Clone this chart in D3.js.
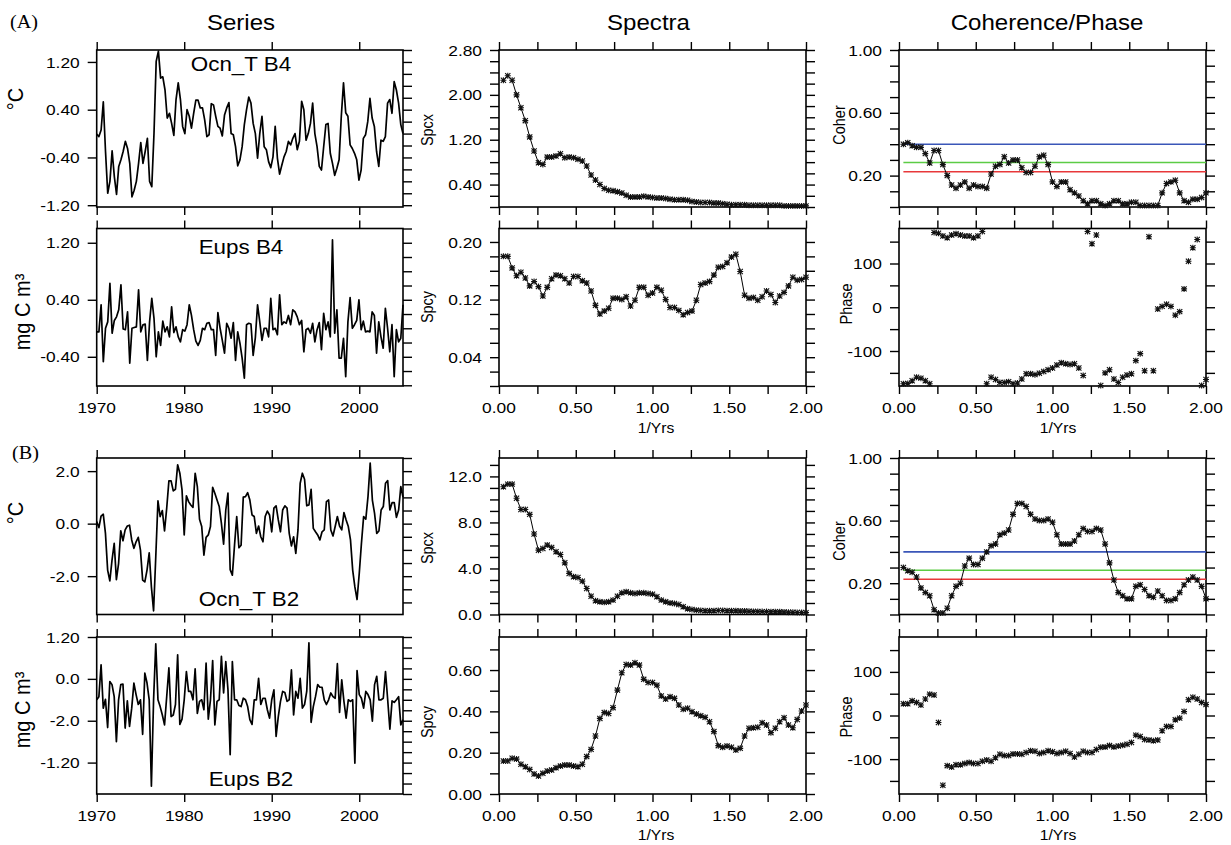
<!DOCTYPE html>
<html>
<head>
<meta charset="utf-8">
<script src="https://cdn.jsdelivr.net/npm/d3@7"></script>
<style>
  body { margin: 0; background: #fff; }
  text { font-family: "Liberation Sans", Arial, Helvetica, sans-serif; fill: #000; }
</style>
</head>
<body>
<svg id="fig" width="1231" height="845"></svg>
<script>
// ---------------- data ----------------
// quarterly anomalies 1970-2005
const ocnT_B4 = [-0.01,-0.05,0.06,0.53,-0.3,-1.0,-0.8,-0.29,-0.72,-1.02,
  -0.55,-0.44,-0.30,-0.13,-0.25,-0.5,-1.06,-0.95,-0.8,-0.5,
  -0.15,-0.5,-0.3,-0.08,-0.8,-0.89,0.0,1.21,1.38,0.93,
  0.95,0.73,0.26,0.34,0.17,-0.03,0.57,0.85,0.57,0.12,
  0.0,0.4,0.29,0.09,0.34,0.56,0.56,0.43,0.43,0.23,
  -0.05,-0.02,0.5,0.48,0.29,0.12,0.09,-0.04,0.31,0.43,
  0.52,0.0,-0.02,-0.22,-0.54,-0.44,-0.22,0.15,0.4,0.61,
  0.51,0.17,0.0,-0.41,0.0,0.29,-0.22,-0.27,-0.47,-0.57,
  -0.39,0.12,-0.41,-0.68,-0.53,-0.39,-0.3,-0.13,-0.19,-0.08,
  0.0,-0.27,-0.13,0.54,0.4,-0.11,0.0,0.17,0.51,0.0,
  -0.22,-0.55,-0.61,-0.22,0.15,0.17,-0.33,-0.5,-0.7,-0.58,
  -0.44,0.29,0.85,0.35,0.29,-0.19,-0.25,-0.33,-0.44,-0.78,
  -0.61,-0.08,-0.02,0.2,0.59,0.26,0.12,-0.3,-0.55,-0.11,
  -0.13,-0.05,0.51,0.57,0.34,0.87,0.73,0.51,0.15,0.0];

const eups_B4 = [-0.05,-0.05,0.33,-0.47,0.0,0.09,0.63,-0.07,0.11,0.16,
  0.26,0.61,-0.01,-0.02,0.23,-0.49,0.0,0.01,0.02,0.54,
  -0.05,0.05,0.06,-0.45,0.09,0.42,0.14,-0.4,-0.05,-0.24,
  0.10,-0.05,0.02,-0.12,0.30,-0.06,0.02,-0.12,-0.19,-0.02,
  -0.04,0.05,0.33,0.18,-0.02,-0.18,-0.24,-0.17,0.0,-0.02,
  0.07,0.08,-0.02,-0.02,-0.38,0.22,0.0,-0.17,-0.35,0.07,
  0.0,-0.14,0.08,-0.45,-0.05,-0.21,-0.42,-0.7,0.05,0.07,
  0.06,-0.38,-0.13,0.33,0.09,-0.17,0.0,0.0,-0.12,0.42,
  -0.02,0.0,-0.09,0.47,0.05,0.09,0.07,0.18,0.05,0.26,
  0.23,0.16,0.05,0.11,-0.33,-0.02,0.0,-0.07,0.07,-0.19,
  -0.02,0.08,-0.3,0.21,-0.02,0.09,-0.12,1.24,-0.07,0.26,
  -0.42,-0.42,-0.14,-0.68,0.09,0.43,0.0,0.05,0.11,0.40,
  -0.02,0.10,-0.05,-0.04,-0.05,0.23,0.18,-0.35,0.09,-0.12,
  -0.28,0.28,0.0,-0.33,0.05,-0.68,-0.02,-0.19,-0.14,0.33];

const ocnT_B2 = [0.08,-0.15,0.29,0.36,-0.37,-1.77,-2.18,-1.39,-0.75,-2.13,
  -1.52,-0.27,-0.65,-0.24,-0.09,-0.06,-0.62,-0.94,-0.69,-0.52,
  -1.01,-2.15,-2.22,-1.77,-1.11,-2.41,-3.32,-1.26,0.87,0.27,
  0.5,-0.28,0.59,1.63,1.63,1.25,1.31,2.24,1.92,1.29,
  -0.43,1.06,0.84,0.71,0.62,1.92,1.41,0.17,-0.11,-1.2,
  -0.52,-0.43,-0.11,1.38,1.16,0.9,0.65,0.01,-0.78,0.52,
  1.16,-1.75,-1.96,-0.82,0.27,-0.92,-0.82,1.01,1.03,1.18,
  0.9,0.33,0.27,-0.37,-0.09,-0.5,-0.69,0.27,0.48,0.33,
  -0.31,0.59,0.68,0.14,-0.31,0.52,0.68,0.59,-0.37,-0.85,
  -0.5,-1.13,-0.24,1.54,1.92,1.69,0.68,0.71,1.31,-0.18,
  -0.31,-0.43,-0.62,-0.31,-0.24,0.84,0.9,-0.24,-0.47,-0.11,
  0.27,-0.09,-0.24,0.42,0.14,-0.11,-0.62,-1.77,-2.41,-2.89,
  -1.9,-0.75,0.27,0.17,1.03,2.31,0.9,0.39,-0.37,-0.28,
  0.52,0.65,1.54,1.64,0.52,0.8,0.8,0.24,0.52,1.41,1.01];

const eups_B2 = [0.0,0.06,0.67,-0.16,0.01,-0.53,0.35,0.29,0.06,-0.8,
  0.0,0.29,0.3,-0.54,-0.02,-0.51,-0.16,0.32,0.1,-0.09,
  0.0,-0.66,0.51,0.32,0.0,-1.65,0.0,1.07,0.0,-0.13,
  -0.29,-0.48,0.06,0.61,-0.32,-0.29,-0.09,0.86,-0.47,-0.37,
  0.0,0.54,0.16,0.16,0.0,0.59,-0.26,-0.03,0.0,-0.19,
  0.7,-0.37,0.0,0.75,-0.48,-0.03,0.0,0.83,0.13,0.73,
  0.19,-1.05,0.73,0.0,0.0,-0.11,-0.13,0.03,0.0,-0.13,
  -0.38,-0.47,0.0,0.0,0.41,-0.09,0.03,0.03,-0.19,-0.35,
  0.0,0.19,-0.7,-0.32,-0.03,0.16,0.14,-0.03,0.0,0.57,
  -0.29,0.16,0.03,0.41,-0.16,-0.09,0.16,1.09,-0.43,-0.13,
  0.06,0.29,0.24,0.24,0.0,-0.09,0.0,0.13,0.06,0.03,
  0.69,-0.24,0.38,-0.03,-0.35,0.0,-0.03,0.0,-1.21,0.56,
  0.1,0.03,-0.16,0.16,0.1,0.0,-0.41,0.29,0.45,0.0,
  0.0,0.03,0.54,0.0,-0.56,-0.02,-0.05,0.0,0.06,-0.48,-0.38];

// smoothed spectra, coherence and phase at frequencies k/35 cycles per year
const spcx_B4 = [2.26,2.34,2.26,2.0,1.77,1.54,1.25,1.0,0.79,0.76,
  0.89,0.89,0.91,0.95,0.88,0.89,0.88,0.85,0.82,0.73,
  0.57,0.48,0.40,0.33,0.30,0.29,0.27,0.25,0.21,0.18,
  0.18,0.18,0.19,0.18,0.17,0.16,0.16,0.15,0.14,0.13,
  0.13,0.13,0.12,0.10,0.09,0.08,0.08,0.08,0.07,0.07,
  0.06,0.05,0.04,0.04,0.04,0.04,0.03,0.03,0.03,0.03,
  0.03,0.03,0.03,0.03,0.02,0.02,0.02,0.02,0.02,0.02];
const spcy_B4 = [0.180,0.180,0.164,0.153,0.158,0.150,0.139,0.145,0.138,0.125,
  0.137,0.149,0.154,0.153,0.149,0.143,0.152,0.152,0.146,0.143,
  0.132,0.112,0.100,0.104,0.108,0.122,0.122,0.120,0.124,0.111,
  0.119,0.137,0.137,0.126,0.129,0.137,0.133,0.120,0.109,0.109,
  0.105,0.099,0.102,0.104,0.119,0.141,0.143,0.145,0.154,0.165,
  0.166,0.171,0.179,0.183,0.159,0.126,0.122,0.123,0.119,0.124,
  0.132,0.127,0.116,0.125,0.130,0.139,0.151,0.147,0.148,0.151];
const coher_B4 = [0.40,0.41,0.39,0.38,0.38,0.34,0.28,0.36,0.36,0.27,
  0.20,0.14,0.12,0.14,0.16,0.12,0.14,0.13,0.13,0.12,
  0.21,0.26,0.27,0.32,0.28,0.30,0.30,0.25,0.22,0.22,
  0.26,0.32,0.33,0.27,0.16,0.13,0.16,0.16,0.11,0.09,
  0.07,0.04,0.02,0.04,0.04,0.02,0.01,0.02,0.04,0.04,
  0.02,0.02,0.03,0.03,0.01,0.01,0.01,0.01,0.01,0.09,
  0.15,0.16,0.17,0.09,0.04,0.03,0.05,0.05,0.06,0.09];
const phase_B4 = [-175,-174,-168,-160,-162,-168,-175,171,169,163,
  159,165,168,165,163,163,159,163,173,-175,
  -160,-165,-172,-172,-170,-175,-173,-164,-152,-152,
  -154,-151,-147,-143,-139,-132,-127,-129,-131,-129,
  -139,-156,173,145,165,-179,-150,-143,-164,-172,
  -160,-155,-152,-122,-106,-145,161,-145,-4,2,
  7,2,-18,-10,42,105,136,155,-179,-165];

const spcx_B2 = [11.1,11.33,11.33,10.1,9.13,9.13,8.7,6.99,5.59,5.74,
  6.03,5.83,5.45,5.22,4.49,3.57,3.28,3.22,2.9,2.26,
  1.59,1.19,1.1,1.07,1.1,1.25,1.59,1.88,1.97,1.88,
  1.83,1.88,1.88,1.83,1.77,1.54,1.25,1.1,1.01,0.96,
  0.87,0.67,0.49,0.43,0.38,0.35,0.33,0.32,0.33,0.35,
  0.35,0.33,0.33,0.32,0.30,0.30,0.28,0.27,0.27,0.25,
  0.25,0.24,0.24,0.23,0.22,0.20,0.19,0.18,0.17,0.16];
const spcy_B2 = [0.16,0.16,0.173,0.169,0.144,0.132,0.119,0.097,0.087,0.1,
  0.111,0.116,0.127,0.135,0.14,0.14,0.135,0.132,0.144,0.181,
  0.216,0.281,0.366,0.394,0.39,0.418,0.503,0.587,0.627,0.624,
  0.635,0.624,0.555,0.54,0.54,0.527,0.474,0.46,0.471,0.463,
  0.431,0.41,0.415,0.398,0.387,0.379,0.371,0.35,0.302,0.234,
  0.226,0.232,0.226,0.213,0.221,0.281,0.318,0.321,0.323,0.345,
  0.334,0.297,0.318,0.35,0.369,0.334,0.321,0.361,0.402,0.431];
const coher_B2 = [0.30,0.28,0.27,0.24,0.17,0.14,0.12,0.03,0.01,0.01,
  0.04,0.12,0.18,0.20,0.31,0.36,0.32,0.32,0.36,0.40,
  0.44,0.45,0.51,0.52,0.54,0.64,0.71,0.71,0.69,0.64,
  0.61,0.60,0.60,0.61,0.59,0.51,0.45,0.45,0.45,0.47,
  0.51,0.55,0.53,0.53,0.55,0.54,0.45,0.33,0.22,0.14,
  0.12,0.10,0.10,0.18,0.19,0.16,0.12,0.11,0.15,0.12,
  0.09,0.09,0.10,0.14,0.19,0.22,0.24,0.22,0.18,0.10];
const phase_B2 = [27,27,34,30,24,38,49,47,-16,-160,
  -115,-118,-113,-113,-110,-108,-110,-110,-105,-102,
  -105,-97,-89,-92,-92,-88,-88,-89,-85,-81,
  -82,-87,-85,-81,-83,-87,-85,-82,-87,-95,
  -89,-82,-85,-85,-78,-73,-72,-69,-72,-70,
  -68,-66,-62,-45,-48,-55,-56,-58,-56,-35,
  -25,-25,-10,-6,9,36,42,38,30,25];

// coherence significance levels and their colours
const sigLevels = [0.40, 0.283, 0.225];
const sigColors = ["#3a56b8", "#5ccc45", "#e8383a"];

// axis ticks and labels
const yearTicks = [1970, 1980, 1990, 2000];
const yearLabels = ["1970", "1980", "1990", "2000"];
const freqTicks = [0, 0.25, 0.5, 0.75, 1.0, 1.25, 1.5, 1.75, 2.0];
const freqLabelTicks = [0, 0.5, 1.0, 1.5, 2.0];
const freqLabels = ["0.00", "0.50", "1.00", "1.50", "2.00"];
const coherTicks = [1.0, 0.6, 0.2], coherLabels = ["1.00", "0.60", "0.20"];
const phaseTicks = [100, 0, -100], phaseLabels = ["100", "0", "-100"];

// ---------------- drawing ----------------
const svg = d3.select("#fig");
const SX = 1.12;          // horizontal text stretch
const TICK = 9;           // outward tick length
const COLS = [[96.7, 403], [499, 806], [899, 1206]];
const ROWS = [[50, 207], [228.5, 386], [458, 614.5], [637, 794]];
const nFreq = spcx_B4.length;
const freqs = d3.range(1, nFreq + 1).map(k => k / 35);

function txt(x, y, s, size, anchor = "middle", rot = 0, family = null) {
  const t = svg.append("text")
    .attr("transform", `translate(${x},${y}) scale(${SX},1) rotate(${rot})`)
    .attr("text-anchor", anchor)
    .style("font-size", size + "px")
    .text(s);
  if (family) t.style("font-family", family);
  return t;
}

function stepTicks(lo, hi, step) {
  const a = Math.ceil(lo / step - 1e-6), b = Math.floor(hi / step + 1e-6);
  return d3.range(a, b + 1).map(k => +(k * step).toFixed(6));
}

function panel(col, row, o) {
  const [x0, x1] = COLS[col], [y0, y1] = ROWS[row];
  const x = d3.scaleLinear().domain(o.xDomain).range([x0, x1]);
  const y = d3.scaleLinear().domain(o.yDomain).range([y1, y0]);
  const g = svg.append("g");
  const minor = stepTicks(o.yDomain[0], o.yDomain[1], o.yStep);
  const tk = (axis, tr) => g.append("g").attr("transform", tr).call(axis)
    .call(s => {
      s.select(".domain").remove();
      s.selectAll("text").remove();
      s.selectAll("line").attr("stroke", "#000").attr("stroke-width", 1.4);
    });
  tk(d3.axisLeft(y).tickValues(o.leftMinor ? minor : o.yTicks).tickSize(TICK).tickSizeOuter(0).tickFormat(() => ""), `translate(${x0},0)`);
  tk(d3.axisRight(y).tickValues(minor).tickSize(TICK).tickSizeOuter(0).tickFormat(() => ""), `translate(${x1},0)`);
  tk(d3.axisBottom(x).tickValues(o.xTicks).tickSize(8).tickSizeOuter(0).tickFormat(() => ""), `translate(0,${y1})`);
  tk(d3.axisTop(x).tickValues(o.xTicks).tickSize(8).tickSizeOuter(0).tickFormat(() => ""), `translate(0,${y0})`);
  g.append("rect").attr("x", x0).attr("y", y0).attr("width", x1 - x0).attr("height", y1 - y0)
    .attr("fill", "none").attr("stroke", "#000").attr("stroke-width", 1.6);
  o.yTicks.forEach((v, i) => txt(x0 - 17, y(v), o.yLabels[i], 15.5, "end").attr("dy", "0.36em"));
  if (o.xLabelTicks) {
    o.xLabelTicks.forEach((v, i) => txt(x(v), y1 + 26.5, o.xLabels[i], 15.5));
  }
  return { x, y, g };
}

// asterisk marker
const star = "M-2.6,-2.6L2.6,2.6M-2.6,2.6L2.6,-2.6M0,-3L0,3M-3,0L3,0";

function drawSeries(p, vals) {
  const n = vals.length;
  const t = vals.map((v, i) => 1970 + i * 35 / (n - 1));
  p.g.append("path").datum(vals)
    .attr("d", d3.line().x((d, i) => p.x(t[i])).y(d => p.y(d)))
    .attr("fill", "none").attr("stroke", "#000").attr("stroke-width", 1.7)
    .attr("stroke-linejoin", "round");
}

function drawSpec(p, vals, withLine = true) {
  if (withLine) {
    p.g.append("path").datum(vals)
      .attr("d", d3.line().x((d, i) => p.x(freqs[i])).y(d => p.y(d)))
      .attr("fill", "none").attr("stroke", "#000").attr("stroke-width", 1);
  }
  p.g.selectAll(null).data(vals).enter().append("path")
    .attr("d", star)
    .attr("transform", (d, i) => `translate(${p.x(freqs[i])},${p.y(d)})`)
    .attr("fill", "none").attr("stroke", "#111").attr("stroke-width", 1.1);
}

function drawSig(p) {
  sigLevels.forEach((v, i) => {
    p.g.append("line").attr("x1", p.x(freqs[0])).attr("x2", p.x(2))
      .attr("y1", p.y(v)).attr("y2", p.y(v))
      .attr("stroke", sigColors[i]).attr("stroke-width", 1.6);
  });
}

// --- block A ---
let p;
p = panel(0, 0, { xDomain: [1970, 2005], yDomain: [-1.23, 1.4], xTicks: yearTicks,
  yTicks: [1.2, 0.4, -0.4, -1.2], yLabels: ["1.20", "0.40", "-0.40", "-1.20"], yStep: 0.2 });
drawSeries(p, ocnT_B4);
p = panel(0, 1, { xDomain: [1970, 2005], yDomain: [-0.81, 1.4], xTicks: yearTicks,
  yTicks: [1.2, 0.4, -0.4], yLabels: ["1.20", "0.40", "-0.40"], yStep: 0.2,
  xLabelTicks: yearTicks, xLabels: yearLabels });
drawSeries(p, eups_B4);

p = panel(1, 0, { xDomain: [0, 2], yDomain: [0, 2.8], xTicks: freqTicks, leftMinor: true,
  yTicks: [2.8, 2.0, 1.2, 0.4], yLabels: ["2.80", "2.00", "1.20", "0.40"], yStep: 0.2 });
drawSpec(p, spcx_B4);
p = panel(1, 1, { xDomain: [0, 2], yDomain: [0, 0.2187], xTicks: freqTicks, leftMinor: true,
  yTicks: [0.2, 0.12, 0.04], yLabels: ["0.20", "0.12", "0.04"], yStep: 0.02,
  xLabelTicks: freqLabelTicks, xLabels: freqLabels });
drawSpec(p, spcy_B4);

p = panel(2, 0, { xDomain: [0, 2], yDomain: [0, 1], xTicks: freqTicks, leftMinor: true,
  yTicks: coherTicks, yLabels: coherLabels, yStep: 0.1 });
drawSig(p);
drawSpec(p, coher_B4);
p = panel(2, 1, { xDomain: [0, 2], yDomain: [-180, 180], xTicks: freqTicks, leftMinor: true,
  yTicks: phaseTicks, yLabels: phaseLabels, yStep: 50,
  xLabelTicks: freqLabelTicks, xLabels: freqLabels });
drawSpec(p, phase_B4, false);

// --- block B ---
p = panel(0, 2, { xDomain: [1970, 2005], yDomain: [-3.46, 2.5], xTicks: yearTicks,
  yTicks: [2, 0, -2], yLabels: ["2.0", "0.0", "-2.0"], yStep: 0.5 });
drawSeries(p, ocnT_B2);
p = panel(0, 3, { xDomain: [1970, 2005], yDomain: [-1.8, 1.2], xTicks: yearTicks,
  yTicks: [1.2, 0.4, -0.4, -1.2], yLabels: ["1.20", "0.0", "-2.0", "-1.20"], yStep: 0.2,
  xLabelTicks: yearTicks, xLabels: yearLabels });
drawSeries(p, eups_B2);

p = panel(1, 2, { xDomain: [0, 2], yDomain: [0, 13.6], xTicks: freqTicks, leftMinor: true,
  yTicks: [12, 8, 4, 0], yLabels: ["12.0", "8.0", "4.0", "0.0"], yStep: 1 });
drawSpec(p, spcx_B2);
p = panel(1, 3, { xDomain: [0, 2], yDomain: [0, 0.76], xTicks: freqTicks, leftMinor: true,
  yTicks: [0.6, 0.4, 0.2, 0], yLabels: ["0.60", "0.40", "0.20", "0.00"], yStep: 0.1,
  xLabelTicks: freqLabelTicks, xLabels: freqLabels });
drawSpec(p, spcy_B2);

p = panel(2, 2, { xDomain: [0, 2], yDomain: [0, 1], xTicks: freqTicks, leftMinor: true,
  yTicks: coherTicks, yLabels: coherLabels, yStep: 0.1 });
drawSig(p);
drawSpec(p, coher_B2);
p = panel(2, 3, { xDomain: [0, 2], yDomain: [-180, 180], xTicks: freqTicks, leftMinor: true,
  yTicks: phaseTicks, yLabels: phaseLabels, yStep: 50,
  xLabelTicks: freqLabelTicks, xLabels: freqLabels });
drawSpec(p, phase_B2, false);

// ---------------- titles and labels ----------------
txt(241, 30, "Series", 21.5);
txt(648.5, 30, "Spectra", 21.5);
txt(1047, 30, "Coherence/Phase", 21.5);
txt(10, 28, "(A)", 18, "start", 0, "'Liberation Serif', 'Times New Roman', serif");
txt(12, 459, "(B)", 18, "start", 0, "'Liberation Serif', 'Times New Roman', serif");

txt(241, 71, "Ocn_T B4", 20);
txt(241, 254, "Eups B4", 20);
txt(249, 606, "Ocn_T B2", 20);
txt(251, 786, "Eups B2", 20);

txt(23, 99, "°C", 20, "middle", -90);
txt(30, 312, "mg C m³", 20, "middle", -90);
txt(23, 513, "°C", 20, "middle", -90);
txt(30, 710, "mg C m³", 20, "middle", -90);

txt(433, 130, "Spcx", 14.5, "middle", -90);
txt(433, 307, "Spcy", 14.5, "middle", -90);
txt(433, 548, "Spcx", 14.5, "middle", -90);
txt(433, 722, "Spcy", 14.5, "middle", -90);
txt(845, 125, "Coher", 14.5, "middle", -90);
txt(852, 304, "Phase", 14.5, "middle", -90);
txt(845, 541, "Coher", 14.5, "middle", -90);
txt(852, 717, "Phase", 14.5, "middle", -90);

txt(656, 433, "1/Yrs", 14);
txt(1058, 433, "1/Yrs", 14);
txt(656, 840, "1/Yrs", 14);
txt(1058, 840, "1/Yrs", 14);
</script>
</body>
</html>
